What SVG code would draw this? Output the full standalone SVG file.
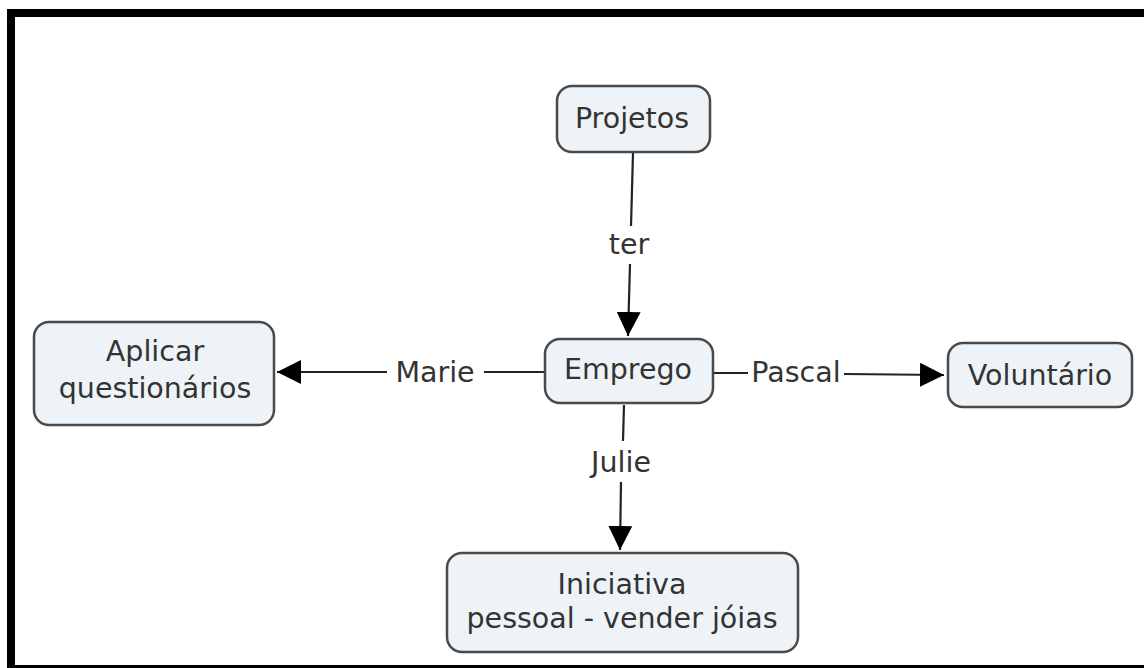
<svg xmlns="http://www.w3.org/2000/svg" width="1144" height="668" viewBox="0 0 1144 668">
<defs>
<style>
.node rect{fill:#eef3f7;stroke:#4a4a4a;stroke-width:2.5}
.t{font-family:"DejaVu Sans",Verdana,sans-serif;font-size:28.5px;fill:#333;text-anchor:middle}
.c line{stroke:#222;stroke-width:2.2}
</style>
<marker id="arr" viewBox="0 0 24 24" refX="24" refY="12" markerWidth="24" markerHeight="24" markerUnits="userSpaceOnUse" orient="auto">
<path d="M0,0 L24,12 L0,24 z" fill="#000"/>
</marker>
</defs>
<rect width="1144" height="668" fill="#fff"/>
<g id="frame">
<rect x="7" y="9" width="1137" height="8" fill="#000"/>
<rect x="7" y="9" width="8" height="659" fill="#000"/>
<rect x="7" y="665" width="1137" height="3" fill="#000"/>
</g>
<g class="c" id="connectors">
<line x1="633" y1="153" x2="631" y2="226"/>
<line x1="630" y1="264" x2="628" y2="336" marker-end="url(#arr)"/>
<text class="t" x="629" y="254">ter</text>
<line x1="544" y1="372" x2="484" y2="372"/>
<line x1="387" y1="372" x2="277" y2="372" marker-end="url(#arr)"/>
<text class="t" x="435" y="382">Marie</text>
<line x1="714" y1="373" x2="748" y2="373"/>
<line x1="844" y1="374" x2="944" y2="375" marker-end="url(#arr)"/>
<text class="t" x="796" y="382">Pascal</text>
<line x1="624" y1="405" x2="623" y2="441"/>
<line x1="621" y1="482" x2="620" y2="550" marker-end="url(#arr)"/>
<text class="t" x="621" y="472">Julie</text>
</g>
<g id="projetos" class="node">
<rect x="557" y="86" width="153" height="66" rx="15"/>
<text class="t" x="632" y="128">Projetos</text>
</g>
<g id="emprego" class="node">
<rect x="545" y="339" width="168" height="64" rx="15"/>
<text class="t" x="628" y="379">Emprego</text>
</g>
<g id="aplicar" class="node">
<rect x="34" y="322" width="240" height="103" rx="15"/>
<text class="t" x="155" y="361">Aplicar</text>
<text class="t" x="155" y="398">questionários</text>
</g>
<g id="voluntario" class="node">
<rect x="948" y="343" width="184" height="64" rx="15"/>
<text class="t" x="1040" y="385">Voluntário</text>
</g>
<g id="iniciativa" class="node">
<rect x="447" y="553" width="351" height="99" rx="15"/>
<text class="t" x="622" y="594">Iniciativa</text>
<text class="t" x="622" y="628">pessoal - vender jóias</text>
</g>
</svg>
